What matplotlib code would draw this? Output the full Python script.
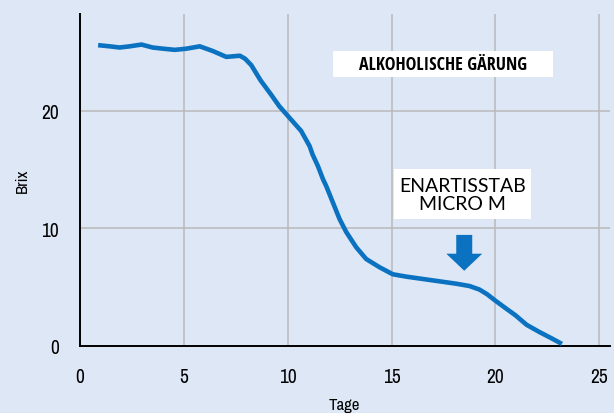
import matplotlib
matplotlib.use('Agg')
import matplotlib.pyplot as plt
from matplotlib import font_manager
from matplotlib.font_manager import FontProperties
from matplotlib.patches import Rectangle

# values
tage = [0.88, 1.44, 1.92, 2.4, 2.97, 3.5, 4.0, 4.57, 5.13, 5.77, 6.4, 7.05,
        7.7, 7.95, 8.25, 8.7, 9.2, 9.6, 10.0, 10.65, 11.06, 11.2, 11.46,
        11.7, 11.86, 12.18, 12.5, 12.82, 13.3, 13.78, 14.42, 15.06, 15.7,
        16.5, 17.3, 18.1, 18.75, 19.23, 19.6, 20.0, 20.5, 20.97, 21.5, 22.1,
        22.7, 23.2]
brix = [25.6, 25.5, 25.4, 25.5, 25.65, 25.4, 25.3, 25.2, 25.3, 25.5, 25.1,
        24.6, 24.7, 24.45, 23.9, 22.6, 21.4, 20.4, 19.6, 18.3, 17.0, 16.3,
        15.3, 14.2, 13.6, 12.2, 10.8, 9.7, 8.4, 7.4, 6.7, 6.1, 5.9, 5.7,
        5.5, 5.3, 5.1, 4.8, 4.4, 3.85, 3.2, 2.6, 1.8, 1.2, 0.65, 0.17]
x_ticks = [0, 5, 10, 15, 20, 25]
y_ticks = [0, 10, 20]
title_txt = 'ALKOHOLISCHE GÄRUNG'
marker_txt = 'ENARTISSTAB\nMICRO M'
arrow_x = 18.5

bg = '#dee7f5'
blue = '#0a72c0'


def weight_num(w):
    if isinstance(w, (int, float)):
        return w
    return {'normal': 400, 'regular': 400, 'book': 400, 'medium': 500,
            'bold': 700, 'semibold': 600, 'demibold': 600}.get(str(w).lower(), 400)


def narrow_font(bold=False):
    # condensed sans face if one is installed, else Open Sans
    picks = []
    for f in font_manager.fontManager.ttflist:
        nm = f.name.lower()
        fn = f.fname.lower()
        narrow = ('condensed' in str(f.stretch) or 'narrow' in nm or 'condensed' in nm
                  or 'narrow' in fn or 'condensed' in fn)
        if not narrow or 'extra' in fn or 'ultra' in fn or 'semicond' in fn:
            continue
        if 'serif' in nm.replace('sans serif', '') or 'mono' in nm:
            continue
        if f.style != 'normal' or 'italic' in fn or 'oblique' in fn:
            continue
        w = weight_num(f.weight)
        if bold and w < 600 or not bold and (w < 350 or w > 450):
            continue
        rank = 0 if ('open' in nm or 'noto' in nm) else (1 if 'dejavu' not in nm else 2)
        picks.append((rank, f.fname))
    if picks:
        return FontProperties(fname=sorted(picks)[0][1])
    return FontProperties(family='Open Sans', weight='bold' if bold else 'normal')


fp = narrow_font()
fpb = narrow_font(bold=True)

fig = plt.figure(figsize=(6.14, 4.14), dpi=100, facecolor=bg)
ax = fig.add_axes([0.130, 0.162, 0.863, 0.802], facecolor=bg)

ax.plot(tage, brix, color=blue, lw=3.3, solid_capstyle='butt', solid_joinstyle='round', zorder=3)

ax.set_xlim(0, 25.5)
ax.set_ylim(0, 28.26)
ax.set_xticks(x_ticks)
ax.set_yticks(y_ticks)
ax.grid(True, color='#b9b9b9', lw=1.1)
ax.set_axisbelow(True)

for s in ['top', 'right']:
    ax.spines[s].set_visible(False)
for s in ['left', 'bottom']:
    ax.spines[s].set_linewidth(1.4)
ax.tick_params(which='major', length=0, pad=15)
ax.set_xticks([0], minor=True)
ax.set_yticks([0], minor=True)
ax.tick_params(which='minor', length=7.5, width=1.4, direction='out')
for lab in ax.get_xticklabels() + ax.get_yticklabels():
    lab.set_fontproperties(fp)
    lab.set_fontsize(14)

xl = ax.set_xlabel('Tage', fontproperties=fp, va='center')
yl = ax.set_ylabel('Brix', fontproperties=fp, va='center')
xl.set_fontsize(12)
yl.set_fontsize(12)
ax.xaxis.set_label_coords(0.5, -0.175)
ax.yaxis.set_label_coords(-0.109, 0.5)

# white label boxes
ax.add_patch(Rectangle((12.16, 22.9), 10.63, 2.2, fc='white', ec='none', zorder=4))
ax.add_patch(Rectangle((15.1, 10.8), 6.63, 4.26, fc='white', ec='none', zorder=4))

t1 = ax.text(17.5, 24.0, title_txt, ha='center', va='center',
             fontproperties=fpb, zorder=5)
t1.set_fontsize(13)
t2 = ax.text(18.4, 12.9, marker_txt, ha='center', va='center',
             fontfamily='Lato', linespacing=1.05, zorder=5)
t2.set_fontsize(14)

ax.arrow(arrow_x, 9.45, 0, -3.05, width=0.77, head_width=1.73, head_length=1.45,
         length_includes_head=True, fc=blue, ec='none', zorder=4)

fig.savefig('out.png', dpi=100, facecolor=bg)
